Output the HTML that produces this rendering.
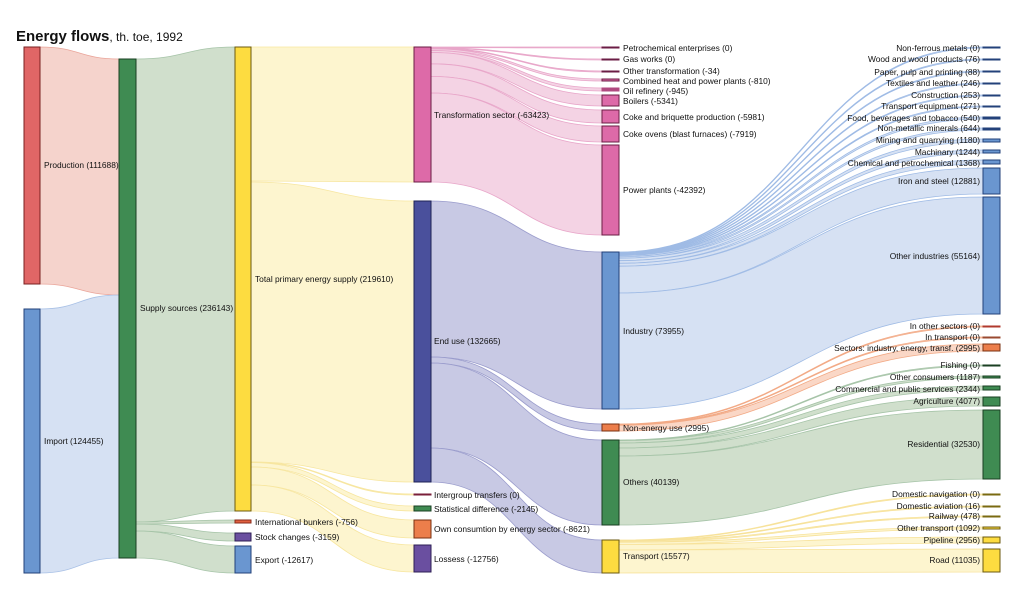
<!DOCTYPE html>
<html><head><meta charset="utf-8">
<style>
html,body{margin:0;padding:0;background:#fff;}
svg{display:block;font-family:"Liberation Sans",Arial,sans-serif;}
.l{font-size:8.4px;fill:#111;}
</style></head><body>
<svg id="s" width="1024" height="607" viewBox="0 0 1024 607">
<text x="16" y="41" style="font-size:15px;font-weight:bold;fill:#111">Energy flows<tspan style="font-size:12px;font-weight:normal">, th. toe, 1992</tspan></text>
<g id="links"></g>
<g id="nodes" stroke-width="1">
<rect x="24" y="47" width="16" height="237" fill="#e06666" stroke="#7a2020"/>
<rect x="24" y="309" width="16" height="264" fill="#6a96d0" stroke="#23417a"/>
<rect x="119" y="59" width="17" height="499" fill="#3f8b52" stroke="#1a3f22"/>
<rect x="235" y="47" width="16" height="464" fill="#fddc40" stroke="#6b5a10"/>
<rect x="235" y="520" width="16" height="3" fill="#e06040" stroke="#8a2a1a"/>
<rect x="235" y="533" width="16" height="8" fill="#6a4fa0" stroke="#2e1f55"/>
<rect x="235" y="546" width="16" height="27" fill="#6a96d0" stroke="#23417a"/>
<rect x="414" y="47" width="17" height="135" fill="#dd6aa8" stroke="#6b1d45"/>
<rect x="414" y="201" width="17" height="281" fill="#4a509c" stroke="#1e2255"/>
<rect x="414" y="494" width="17" height="1" fill="#7a1f3a" stroke="#7a1f3a"/>
<rect x="414" y="506" width="17" height="5" fill="#3f8b52" stroke="#1a3f22"/>
<rect x="414" y="520" width="17" height="18" fill="#ec7e4b" stroke="#7a3010"/>
<rect x="414" y="545" width="17" height="27" fill="#6a4fa0" stroke="#2e1f55"/>
<rect x="602" y="47" width="17" height="1" fill="#6b1d45" stroke="#6b1d45"/>
<rect x="602" y="59" width="17" height="1" fill="#6b1d45" stroke="#6b1d45"/>
<rect x="602" y="71" width="17" height="1" fill="#6b1d45" stroke="#6b1d45"/>
<rect x="602" y="79" width="17" height="2" fill="#dd6aa8" stroke="#6b1d45"/>
<rect x="602" y="88" width="17" height="3" fill="#b04a80" stroke="#b04a80"/>
<rect x="602" y="95" width="17" height="11" fill="#dd6aa8" stroke="#6b1d45"/>
<rect x="602" y="110" width="17" height="13" fill="#dd6aa8" stroke="#6b1d45"/>
<rect x="602" y="126" width="17" height="16" fill="#dd6aa8" stroke="#6b1d45"/>
<rect x="602" y="145" width="17" height="90" fill="#dd6aa8" stroke="#6b1d45"/>
<rect x="602" y="252" width="17" height="157" fill="#6a96d0" stroke="#23417a"/>
<rect x="602" y="424" width="17" height="7" fill="#ec7e4b" stroke="#7a3010"/>
<rect x="602" y="440" width="17" height="85" fill="#3f8b52" stroke="#1a3f22"/>
<rect x="602" y="540" width="17" height="33" fill="#fddc40" stroke="#6b5a10"/>
<rect x="983" y="47" width="17" height="1" fill="#23417a" stroke="#23417a"/>
<rect x="983" y="59" width="17" height="1" fill="#23417a" stroke="#23417a"/>
<rect x="983" y="71" width="17" height="1" fill="#23417a" stroke="#23417a"/>
<rect x="983" y="83" width="17" height="1" fill="#23417a" stroke="#23417a"/>
<rect x="983" y="95" width="17" height="1" fill="#23417a" stroke="#23417a"/>
<rect x="983" y="106" width="17" height="1" fill="#23417a" stroke="#23417a"/>
<rect x="983" y="117" width="17" height="2" fill="#23417a" stroke="#23417a"/>
<rect x="983" y="128" width="17" height="2" fill="#23417a" stroke="#23417a"/>
<rect x="983" y="139" width="17" height="3" fill="#6a96d0" stroke="#23417a"/>
<rect x="983" y="150" width="17" height="3" fill="#6a96d0" stroke="#23417a"/>
<rect x="983" y="160" width="17" height="4" fill="#6a96d0" stroke="#23417a"/>
<rect x="983" y="168" width="17" height="26" fill="#6a96d0" stroke="#23417a"/>
<rect x="983" y="197" width="17" height="117" fill="#6a96d0" stroke="#23417a"/>
<rect x="983" y="326" width="17" height="1" fill="#b03a2e" stroke="#b03a2e"/>
<rect x="983" y="337" width="17" height="1" fill="#9a4a30" stroke="#9a4a30"/>
<rect x="983" y="344" width="17" height="7" fill="#ec7e4b" stroke="#7a3010"/>
<rect x="983" y="365" width="17" height="1" fill="#1a3f22" stroke="#1a3f22"/>
<rect x="983" y="376" width="17" height="2" fill="#3f8b52" stroke="#1a3f22"/>
<rect x="983" y="386" width="17" height="4" fill="#3f8b52" stroke="#1a3f22"/>
<rect x="983" y="397" width="17" height="9" fill="#3f8b52" stroke="#1a3f22"/>
<rect x="983" y="410" width="17" height="69" fill="#3f8b52" stroke="#1a3f22"/>
<rect x="983" y="494" width="17" height="1" fill="#7a6a10" stroke="#7a6a10"/>
<rect x="983" y="506" width="17" height="1" fill="#7a6a10" stroke="#7a6a10"/>
<rect x="983" y="516" width="17" height="1" fill="#7a6a10" stroke="#7a6a10"/>
<rect x="983" y="527" width="17" height="2" fill="#fddc40" stroke="#6b5a10"/>
<rect x="983" y="537" width="17" height="6" fill="#fddc40" stroke="#6b5a10"/>
<rect x="983" y="549" width="17" height="23" fill="#fddc40" stroke="#6b5a10"/>
</g>
<g class="l">
<text x="44" y="168">Production (111688)</text>
<text x="44" y="444">Import (124455)</text>
<text x="140" y="311">Supply sources (236143)</text>
<text x="255" y="282">Total primary energy supply (219610)</text>
<text x="255" y="525">International bunkers (-756)</text>
<text x="255" y="540">Stock changes (-3159)</text>
<text x="255" y="563">Export (-12617)</text>
<text x="434" y="118">Transformation sector (-63423)</text>
<text x="434" y="344">End use (132665)</text>
<text x="434" y="498">Intergroup transfers (0)</text>
<text x="434" y="512">Statistical difference (-2145)</text>
<text x="434" y="532">Own consumtion by energy sector (-8621)</text>
<text x="434" y="562">Lossess (-12756)</text>
<text x="623" y="51">Petrochemical enterprises (0)</text>
<text x="623" y="62">Gas works (0)</text>
<text x="623" y="74">Other transformation (-34)</text>
<text x="623" y="84">Combined heat and power plants (-810)</text>
<text x="623" y="94">Oil refinery (-945)</text>
<text x="623" y="104">Boilers (-5341)</text>
<text x="623" y="120">Coke and briquette production (-5981)</text>
<text x="623" y="137">Coke ovens (blast furnaces) (-7919)</text>
<text x="623" y="193">Power plants (-42392)</text>
<text x="623" y="334">Industry (73955)</text>
<text x="623" y="431">Non-energy use (2995)</text>
<text x="623" y="485">Others (40139)</text>
<text x="623" y="559">Transport (15577)</text>
</g>
<g class="l" text-anchor="end">
<text x="980" y="51">Non-ferrous metals (0)</text>
<text x="980" y="62">Wood and wood products (76)</text>
<text x="980" y="75">Paper, pulp and printing (88)</text>
<text x="980" y="86">Textiles and leather (246)</text>
<text x="980" y="98">Construction (253)</text>
<text x="980" y="109">Transport equipment (271)</text>
<text x="980" y="121">Food, beverages and tobacco (540)</text>
<text x="980" y="131">Non-metallic minerals (644)</text>
<text x="980" y="143">Mining and quarrying (1180)</text>
<text x="980" y="155">Machinary (1244)</text>
<text x="980" y="166">Chemical and petrochemical (1368)</text>
<text x="980" y="184">Iron and steel (12881)</text>
<text x="980" y="259">Other industries (55164)</text>
<text x="980" y="329">In other sectors (0)</text>
<text x="980" y="340">In transport (0)</text>
<text x="980" y="351">Sectors: industry, energy, transf. (2995)</text>
<text x="980" y="368">Fishing (0)</text>
<text x="980" y="380">Other consumers (1187)</text>
<text x="980" y="392">Commercial and public services (2344)</text>
<text x="980" y="404">Agriculture (4077)</text>
<text x="980" y="447">Residential (32530)</text>
<text x="980" y="497">Domestic navigation (0)</text>
<text x="980" y="509">Domestic aviation (16)</text>
<text x="980" y="519">Railway (478)</text>
<text x="980" y="531">Other transport (1092)</text>
<text x="980" y="543">Pipeline (2956)</text>
<text x="980" y="563">Road (11035)</text>
</g>
</svg>
<script>
var L=[
// sx,a0,a1,tx,b0,b1,fill,stroke
[40,47,284,119,59,295,"#f5d3cc","#eaa59a"],
[40,309,573,119,295,558,"#d6e1f3","#a9c1e6"],
[136,59,522,235,47,511,"#d0dfcc","#a6c4a8"],
[136,522,524,235,520,523,"#d0dfcc","#a6c4a8"],
[136,524,531,235,533,541,"#d0dfcc","#a6c4a8"],
[136,531,558,235,546,573,"#d0dfcc","#a6c4a8"],
[251,47,181,414,47,182,"#fdf5cf","#f7e6a0"],
[251,182,462,414,201,482,"#fdf5cf","#f7e6a0"],
[251,462,462.6,414,494,495,"#fdf5cf","#f7e6a0"],
[251,462.6,467,414,506,511,"#fdf5cf","#f7e6a0"],
[251,467,485,414,520,538,"#fdf5cf","#f7e6a0"],
[251,485,511,414,545,572,"#fdf5cf","#f7e6a0"],
[431,47,47.6,602,47,48,"#f4d3e4","#e8a6c9"],
[431,47.6,48.2,602,59,60,"#f4d3e4","#e8a6c9"],
[431,48.2,48.8,602,71,72,"#f4d3e4","#e8a6c9"],
[431,48.8,50.5,602,79,81,"#f4d3e4","#e8a6c9"],
[431,50.5,52.5,602,88,91,"#f4d3e4","#e8a6c9"],
[431,52.5,63.8,602,95,106,"#f4d3e4","#e8a6c9"],
[431,63.8,76.4,602,110,123,"#f4d3e4","#e8a6c9"],
[431,76.4,93,602,126,142,"#f4d3e4","#e8a6c9"],
[431,93,182,602,145,235,"#f4d3e4","#e8a6c9"],
[431,201,357,602,252,409,"#c8c9e4","#9a9ccc"],
[431,357,363,602,424,431,"#c8c9e4","#9a9ccc"],
[431,363,448,602,440,525,"#c8c9e4","#9a9ccc"],
[431,448,482,602,540,573,"#c8c9e4","#9a9ccc"],
[619,252,252.6,983,47,48,"#d6e1f3","#9fbbe5"],
[619,252.6,253.2,983,59,60,"#d6e1f3","#9fbbe5"],
[619,253.2,253.8,983,71,72,"#d6e1f3","#9fbbe5"],
[619,253.8,254.4,983,83,84,"#d6e1f3","#9fbbe5"],
[619,254.4,255,983,95,96,"#d6e1f3","#9fbbe5"],
[619,255,255.6,983,106,107,"#d6e1f3","#9fbbe5"],
[619,255.6,256.8,983,117,119,"#d6e1f3","#9fbbe5"],
[619,256.8,258.2,983,128,130,"#d6e1f3","#9fbbe5"],
[619,258.2,260.7,983,139,142,"#d6e1f3","#9fbbe5"],
[619,260.7,263.3,983,150,153,"#d6e1f3","#9fbbe5"],
[619,263.3,266.2,983,160,164,"#d6e1f3","#9fbbe5"],
[619,266.2,293,983,168,194,"#d6e1f3","#9fbbe5"],
[619,293,409,983,197,314,"#d6e1f3","#9fbbe5"],
[619,424,424.6,983,326,327,"#fad7c6","#f2aa86"],
[619,424.6,425.2,983,337,338,"#fad7c6","#f2aa86"],
[619,425.2,431,983,344,351,"#fad7c6","#f2aa86"],
[619,440,440.6,983,365,366,"#d0dfcc","#a6c4a8"],
[619,440.6,443,983,376,378,"#d0dfcc","#a6c4a8"],
[619,443,448,983,386,390,"#d0dfcc","#a6c4a8"],
[619,448,456,983,397,406,"#d0dfcc","#a6c4a8"],
[619,456,525,983,410,479,"#d0dfcc","#a6c4a8"],
[619,540,540.6,983,494,495,"#fdf5cf","#f7e29a"],
[619,540.6,541.2,983,506,507,"#fdf5cf","#f7e29a"],
[619,541.2,542.2,983,516,517,"#fdf5cf","#f7e29a"],
[619,542.2,544.5,983,527,529,"#fdf5cf","#f7e29a"],
[619,544.5,550,983,537,543,"#fdf5cf","#f7e29a"],
[619,550,573,983,549,572,"#fdf5cf","#f7e29a"]
];
var g=document.getElementById("links"),ns="http://www.w3.org/2000/svg",h="";
L.forEach(function(d){var sx=d[0],a0=d[1],a1=d[2],tx=d[3],b0=d[4],b1=d[5],m=(sx+tx)/2;
var p="M"+sx+","+a0+"C"+m+","+a0+" "+m+","+b0+" "+tx+","+b0+"L"+tx+","+b1+"C"+m+","+b1+" "+m+","+a1+" "+sx+","+a1+"Z";
h+='<path d="'+p+'" fill="'+d[6]+'" stroke="'+d[7]+'" stroke-width="0.8"/>';});
g.innerHTML=h;
</script>
</body></html>
